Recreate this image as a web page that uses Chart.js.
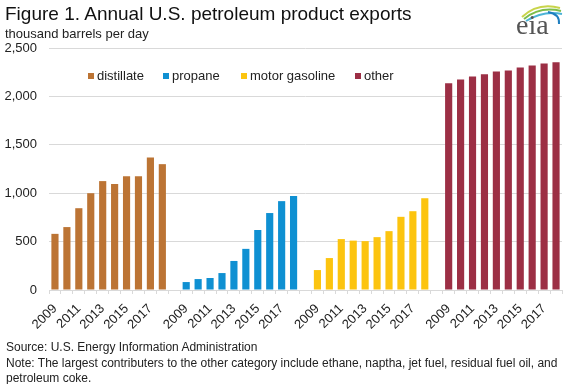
<!DOCTYPE html>
<html>
<head>
<meta charset="utf-8">
<script src="https://cdn.jsdelivr.net/npm/chart.js@4.4.1/dist/chart.umd.min.js"></script>
<style>
  html, body { margin: 0; padding: 0; background: #fff; }
  #wrap { position: relative; width: 576px; height: 384px; overflow: hidden; font-family: "Liberation Sans", Arial, sans-serif; color: #111; }
  #chart { position: absolute; left: 0; top: 0; }
  .txt { position: absolute; white-space: nowrap; }
  #title { left: 5px; top: 3px; font-size: 19px; }
  #subtitle { left: 5px; top: 26px; font-size: 13px; color: #222; }
  #legend { left: 88px; top: 68px; font-size: 13px; color: #222; }
  #legend span.item { position: absolute; top: 0; white-space: nowrap; }
  #legend i { display: inline-block; width: 6px; height: 6px; margin-right: 3px; vertical-align: 1px; }
  #notes { left: 6px; top: 340px; font-size: 12px; line-height: 15.5px; color: #222; }
  #logo { position: absolute; left: 508px; top: 0; }
</style>
</head>
<body>
<div id="wrap">
  <canvas id="chart" width="576" height="384"></canvas>
  <div class="txt" id="title">Figure 1. Annual U.S. petroleum product exports</div>
  <div class="txt" id="subtitle">thousand barrels per day</div>
  <div class="txt" id="legend"></div>
  <div class="txt" id="notes">Source: U.S. Energy Information Administration<br>Note: The largest contributers to the other category include ethane, naptha, jet fuel, residual fuel oil, and<br>petroleum coke.</div>
  <svg id="logo" width="68" height="42">
    <path d="M 14 17 Q 30 2 52 8" stroke="#c8d44a" stroke-width="2" fill="none"/>
    <path d="M 16 19 Q 32 6 53 11" stroke="#7cbd4a" stroke-width="2" fill="none"/>
    <path d="M 18 21 Q 36 10 54 14" stroke="#4bb3d6" stroke-width="2" fill="none"/>
    <path d="M 40 12 Q 52 14 51 24" stroke="#1f7fc0" stroke-width="2" fill="none"/>
    <text x="8" y="34" font-family="Liberation Serif, serif" font-size="28" fill="#555">eia</text>
  </svg>
</div>
<script>
// data (thousand barrels per day)
const years = ['2009', '2010', '2011', '2012', '2013', '2014', '2015', '2016', '2017', '2018'];
const tickYears = ['2009', '2011', '2013', '2015', '2017'];
const seriesNames = ['distillate', 'propane', 'motor gasoline', 'other'];
const seriesColors = ['#bc7434', '#0f90d2', '#fcc40f', '#9c2f45'];

const distillate = [580, 650, 845, 1000, 1125, 1095, 1175, 1175, 1370, 1300];
const propane = [82, 113, 124, 175, 300, 425, 620, 795, 918, 970];
const gasoline = [206, 330, 526, 510, 505, 546, 608, 756, 814, 948];
const other = [2135, 2175, 2205, 2228, 2258, 2268, 2298, 2320, 2340, 2352];

const groups = [distillate, propane, gasoline, other];

// categories: each group of years, with an empty slot between groups
const labels = [];
groups.forEach(function (g, i) {
    years.forEach(function (y) { labels.push(y); });
    if (i < groups.length - 1) labels.push('');
});

const datasets = groups.map(function (g, i) {
    const data = new Array(labels.length).fill(null);
    g.forEach(function (v, j) { data[i * (years.length + 1) + j] = v; });
    return {
        label: seriesNames[i],
        data: data,
        backgroundColor: seriesColors[i],
        barPercentage: 0.6,
        categoryPercentage: 1
    };
});

// legend drawn as html inside the plot
const legendPos = [0, 75, 153, 267];
const legend = document.getElementById('legend');
seriesNames.forEach(function (name, i) {
    const s = document.createElement('span');
    s.className = 'item';
    s.style.left = legendPos[i] + 'px';
    s.innerHTML = '<i style="background:' + seriesColors[i] + '"></i>' + name;
    legend.appendChild(s);
});

new Chart(document.getElementById('chart').getContext('2d'), {
    type: 'bar',
    data: { labels: labels, datasets: datasets },
    options: {
        responsive: false,
        animation: false,
        devicePixelRatio: 1,
        layout: { padding: { left: 0, right: 14, top: 48, bottom: 44 } },
        plugins: { legend: { display: false }, tooltip: { enabled: false } },
        scales: {
            x: {
                stacked: true,
                grid: { drawOnChartArea: false, drawTicks: true, tickLength: 4, color: '#d9d9d9' },
                border: { color: '#d9d9d9' },
                ticks: {
                    autoSkip: false,
                    minRotation: 45,
                    maxRotation: 45,
                    padding: 7,
                    color: '#222',
                    font: { family: 'Liberation Sans', size: 13 },
                    callback: function (val) {
                        const l = this.getLabelForValue(val);
                        return tickYears.includes(l) ? l : '';
                    }
                },
                afterFit: function (s) { s.height = 50; }
            },
            y: {
                stacked: true,
                min: 0,
                max: 2500,
                ticks: {
                    stepSize: 500,
                    padding: 12,
                    color: '#222',
                    font: { family: 'Liberation Sans', size: 13 }
                },
                grid: { color: '#d9d9d9', drawTicks: false },
                border: { display: false },
                afterFit: function (s) { s.width = 49; }
            }
        }
    }
});
</script>
</body>
</html>
